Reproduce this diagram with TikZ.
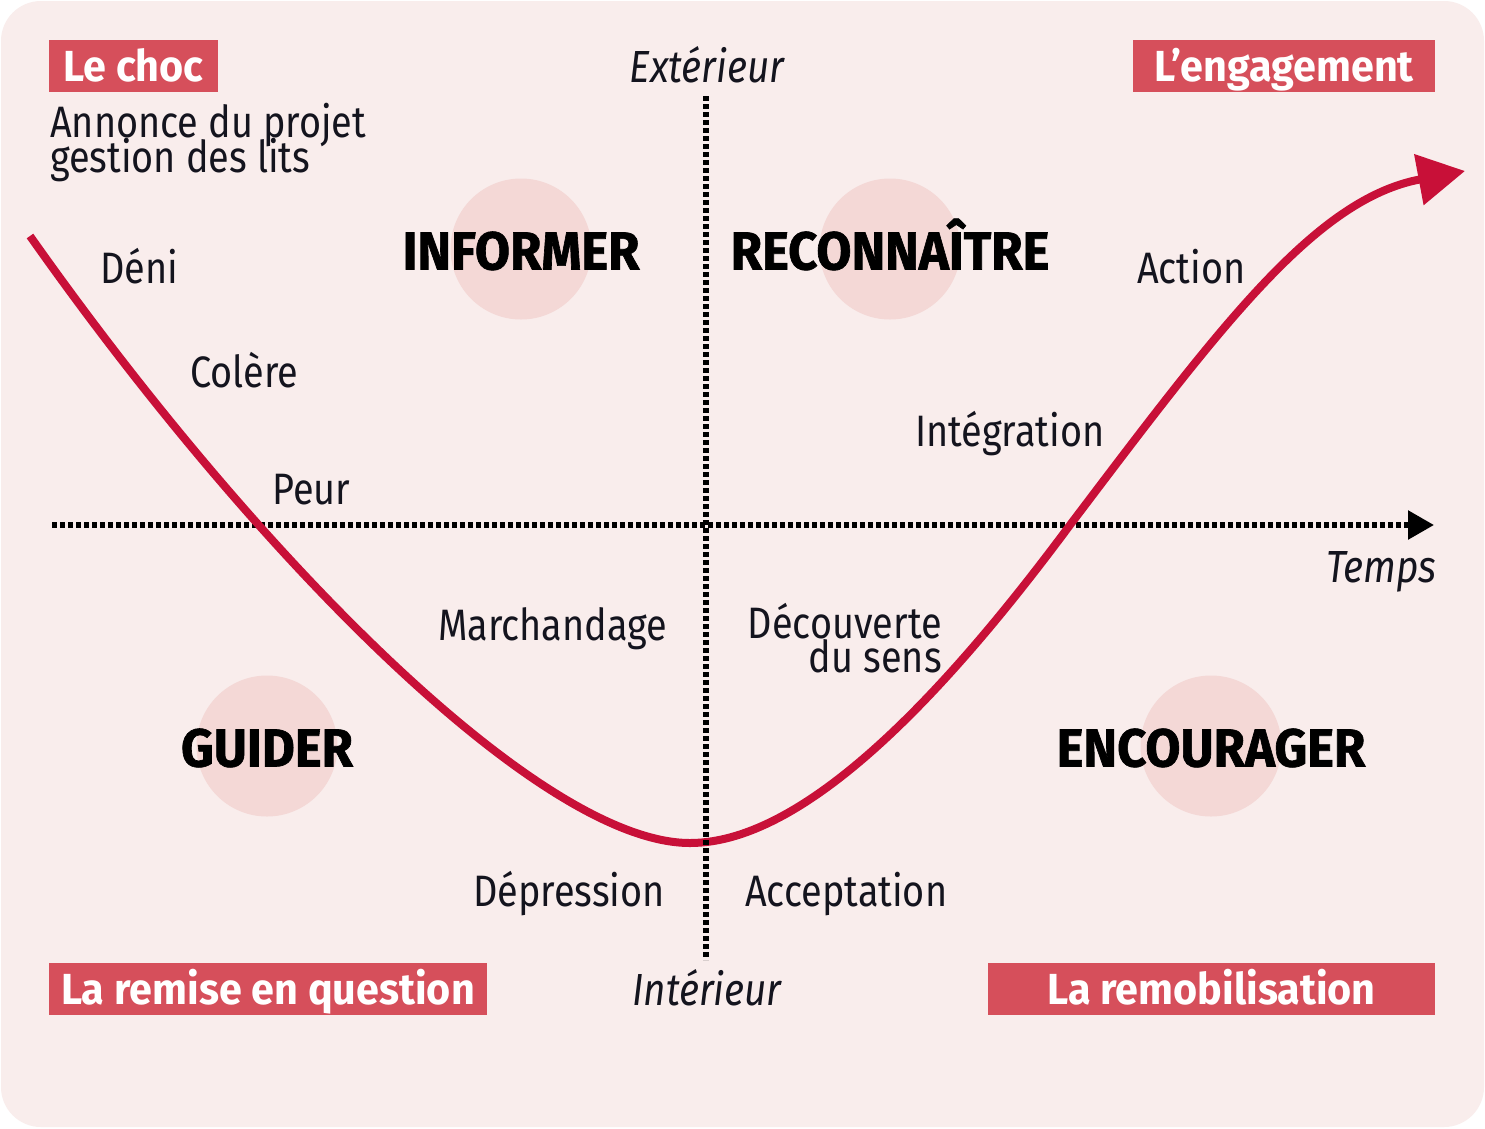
\documentclass[tikz,border=0pt]{standalone}
\usepackage{fontspec}
\setmainfont{Fira Sans}[FakeStretch=0.86, BoldFeatures={FakeStretch=0.95}]
\usetikzlibrary{arrows.meta}
\definecolor{bgpink}{RGB}{249,237,236}
\definecolor{circpink}{RGB}{244,216,214}
\definecolor{tagred}{RGB}{214,79,91}
\definecolor{curvered}{RGB}{200,16,56}
\definecolor{ink}{RGB}{20,20,30}
\begin{document}
\begin{tikzpicture}[x=1pt,y=-1pt,
  txt/.style={font=\fontsize{44}{35}\selectfont, inner sep=0pt, text=ink},
  itxt/.style={font=\fontsize{45}{35}\selectfont\itshape, inner sep=0pt, text=ink},
  big/.style={font=\fontsize{53.5}{53.5}\selectfont\bfseries\addfontfeatures{FakeBold=1.2}, inner sep=0pt, text=black, text height=37pt, text depth=0pt},
  tag/.style={fill=tagred, text=white, font=\fontsize{43.5}{43.5}\selectfont\bfseries, inner sep=0pt, minimum height=52pt, text height=30pt, text depth=0pt},
  blob/.style={circle, fill=circpink, minimum size=141pt, inner sep=0pt},
  dots/.style={line width=5.5pt, dash pattern=on 5pt off 3pt, black},
  curvestyle/.style={line width=8pt, curvered}
]
\useasboundingbox (0,0) rectangle (1485,1128);
\fill[white] (0,0) rectangle (1485,1128);
\fill[bgpink, rounded corners=40pt] (1,1) rectangle (1484,1127);

% circles
\node[blob] (binf) at (521,249) {};
\node[blob] (brec) at (890,249) {};
\node[blob] (bgui) at (267,746) {};
\node[blob] (benc) at (1211,746) {};

% tags
\node[tag, minimum width=169pt] (choc) at (133.5,66) {Le choc};
\node[tag, minimum width=302pt] (engag) at (1284,66) {L’engagement};
\node[tag, minimum width=438pt] (remise) at (268,989) {La remise en question};
\node[tag, minimum width=447pt] (remob) at (1211.5,989) {La remobilisation};

% axes
\coordinate (xstart) at (52,525);
\coordinate (xend) at (1434,525);
\coordinate (ytop) at (706,96);
\coordinate (ybot) at (706,960);
\draw[dots, -{Triangle[length=26pt,width=28pt]}] (xstart) -- (xend);

% curve
\coordinate (c0) at (30,236);
\coordinate (cmin) at (690,843);
\coordinate (cx) at (1070,525);
\coordinate (ctip) at (1465,171);
\draw[curvestyle, -{Triangle[length=47pt,width=50pt]}] (c0) .. controls (255,555) and (540,843) .. (cmin)
  .. controls (810,843) and (955,680) .. (cx)
  .. controls (1220,327) and (1315,199) .. (ctip);

\draw[dots] (ytop) -- (ybot);

% labels
\node[big] (linf) at (521,251) {INFORMER};
\node[big] (lrec) at (890,251) {RECONNAÎTRE};
\node[big] (lgui) at (267,748) {GUIDER};
\node[big] (lenc) at (1211,748) {ENCOURAGER};

\node[txt, anchor=base west] (ann1) at (50,137) {Annonce du projet};
\node[txt, anchor=base west] (ann2) at (50,172) {gestion des lits};
\node[itxt, anchor=base] (ext) at (707,82) {Extérieur};
\node[itxt, anchor=base] (int) at (707,1005) {Intérieur};
\node[itxt, anchor=base east] (temps) at (1437,582) {Temps};

\node[txt, anchor=base west] (deni) at (100,283) {Déni};
\node[txt, anchor=base west] (colere) at (190,387) {Colère};
\node[txt, anchor=base west] (peur) at (272,504) {Peur};
\node[txt, anchor=base west] (march) at (438,640) {Marchandage};
\node[txt, anchor=base east] (depr) at (665,906) {Dépression};
\node[txt, anchor=base west] (accept) at (745,906) {Acceptation};
\node[txt, anchor=base east] (dec1) at (942,638) {Découverte};
\node[txt, anchor=base east] (dec2) at (942,672) {du sens};
\node[txt, anchor=base west] (integ) at (915,446) {Intégration};
\node[txt, anchor=base west] (action) at (1137,283) {Action};
\end{tikzpicture}
\end{document}
